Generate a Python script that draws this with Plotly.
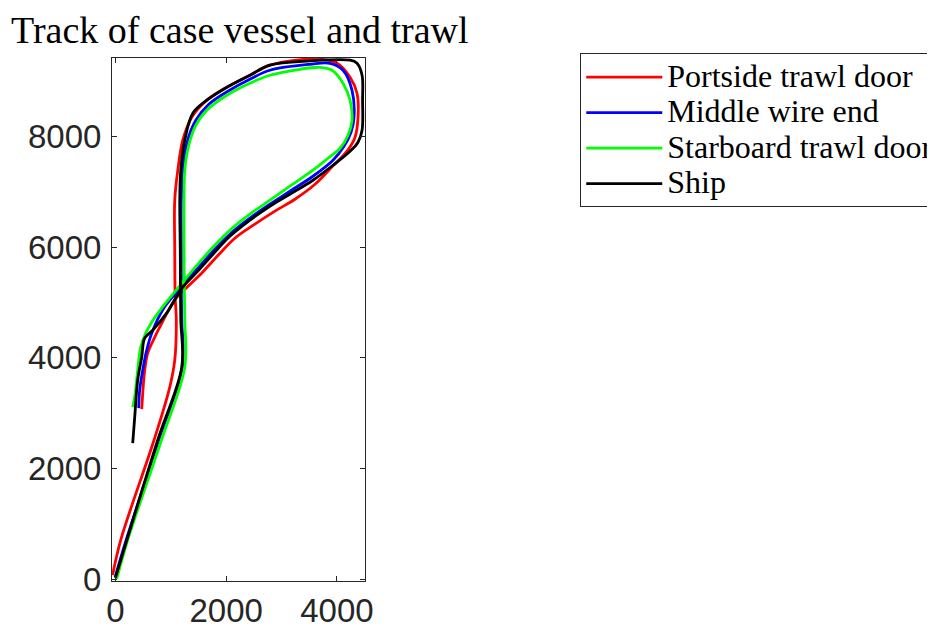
import plotly.graph_objects as go

# Portside trawl door (red)
port_x = [-50, 96, 698, 982, 1072, 1100, 1080, 1072, 1072, 1127, 1217, 1380, 1651, 2013, 2429, 2790, 3300, 3640, 4002, 4237, 4363, 4381, 4327, 4183, 3929, 3604, 3242, 2881, 2519, 2157, 1868, 1578, 1307, 1072, 801, 711, 584, 530, 476]
port_y = [72, 705, 2514, 3472, 3960, 4684, 5100, 5949, 6854, 7396, 7939, 8354, 8662, 8897, 9114, 9295, 9390, 9410, 9331, 9078, 8788, 8354, 7991, 7740, 7475, 7140, 6870, 6655, 6420, 6165, 5870, 5555, 5290, 5050, 4556, 4376, 4087, 3779, 3074]

# Middle wire end (blue)
mid_x = [-4, 195, 783, 1208, 1199, 1190, 1190, 1190, 1217, 1289, 1452, 1687, 2031, 2428, 2790, 3513, 3875, 4110, 4273, 4309, 4255, 4128, 3929, 3567, 3151, 2790, 2428, 2067, 1777, 1488, 1217, 873, 656, 566, 494, 439, 421]
mid_y = [36, 705, 2514, 3833, 4683, 5261, 5948, 6853, 7395, 7883, 8299, 8588, 8823, 9040, 9203, 9311, 9329, 9203, 8841, 8353, 8082, 7829, 7575, 7286, 7015, 6780, 6527, 6238, 5948, 5623, 5315, 4900, 4448, 4140, 3779, 3417, 3092]

# Starboard trawl door (green)
star_x = [24, 222, 832, 1253, 1253, 1244, 1240, 1240, 1253, 1325, 1452, 1651, 2013, 2428, 2790, 3332, 3694, 3911, 4110, 4237, 4273, 4201, 4056, 3839, 3567, 3151, 2790, 2428, 2067, 1777, 1488, 1217, 891, 656, 548, 458, 403, 349, 313]
star_y = [0, 705, 2514, 3833, 4683, 5352, 5948, 6853, 7395, 7847, 8208, 8480, 8751, 8968, 9113, 9221, 9257, 9203, 8968, 8660, 8299, 8028, 7793, 7612, 7395, 7106, 6853, 6600, 6310, 6021, 5695, 5370, 4972, 4646, 4448, 4194, 3779, 3291, 3110]

# Ship (black)
ship_x = [0, 765, 1199, 1181, 1175, 1172, 1163, 1181, 1253, 1398, 1651, 2013, 2429, 2790, 3514, 4237, 4363, 4454, 4463, 4454, 4381, 4237, 3929, 3567, 3151, 2790, 2428, 2067, 1777, 1488, 1217, 926, 675, 530, 476, 403, 349, 313]
ship_y = [20, 2514, 3834, 4684, 5262, 5949, 6854, 7396, 7939, 8427, 8662, 8897, 9114, 9295, 9372, 9385, 9331, 9114, 8662, 8119, 7901, 7738, 7485, 7214, 6961, 6744, 6491, 6201, 5894, 5569, 5279, 4809, 4502, 4358, 4014, 3598, 2929, 2459]

series = [
    ("Portside trawl door", port_x, port_y, "#FF0000"),
    ("Middle wire end", mid_x, mid_y, "#0000FF"),
    ("Starboard trawl door", star_x, star_y, "#00FF00"),
    ("Ship", ship_x, ship_y, "#000000"),
]

x_ticks = [0, 2000, 4000]
y_ticks = [0, 2000, 4000, 6000, 8000]

fig = go.Figure()
for name, xs, ys, col in series:
    fig.add_trace(go.Scatter(
        x=xs, y=ys, mode="lines",
        name='<span style="font-size:32px">' + name + '</span>',
        line=dict(color=col, width=2.8, shape="spline", smoothing=1.0)))

axis_common = dict(showgrid=False, zeroline=False, showline=True, linecolor="#262626",
                   linewidth=1, mirror="ticks", ticks="inside", ticklen=5, tickwidth=1,
                   tickcolor="#262626",
                   tickfont=dict(family="Liberation Sans, Arial, sans-serif", size=33, color="#262626"))

W, H = 927, 623
L, R, T, B = 104.3, 570, 49.7, 50

fig.update_layout(
    width=W, height=H,
    margin=dict(l=L, r=R, t=T, b=B, autoexpand=False),
    paper_bgcolor="white", plot_bgcolor="white",
    title=dict(text="Track of case vessel and trawl", xref="container", yref="container",
               x=3/W, xanchor="left", y=1-21.5/H, yanchor="middle",
               font=dict(family="Liberation Serif, Times New Roman, serif", size=38, color="black")),
    xaxis=dict(range=[-61, 4507], tickvals=x_ticks, **axis_common),
    yaxis=dict(range=[-36, 9425], tickvals=y_ticks, ticklabelstandoff=3, **axis_common),
    legend=dict(x=(572-L)/(W-L-R), xanchor="left", y=(H-B-45)/(H-T-B), yanchor="top",
                bgcolor="white", bordercolor="#262626", borderwidth=1,
                font=dict(family="Liberation Serif, Times New Roman, serif", size=25, color="black"),
                itemwidth=76, tracegroupgap=0),
    showlegend=True,
)

fig.write_html("out.html")
